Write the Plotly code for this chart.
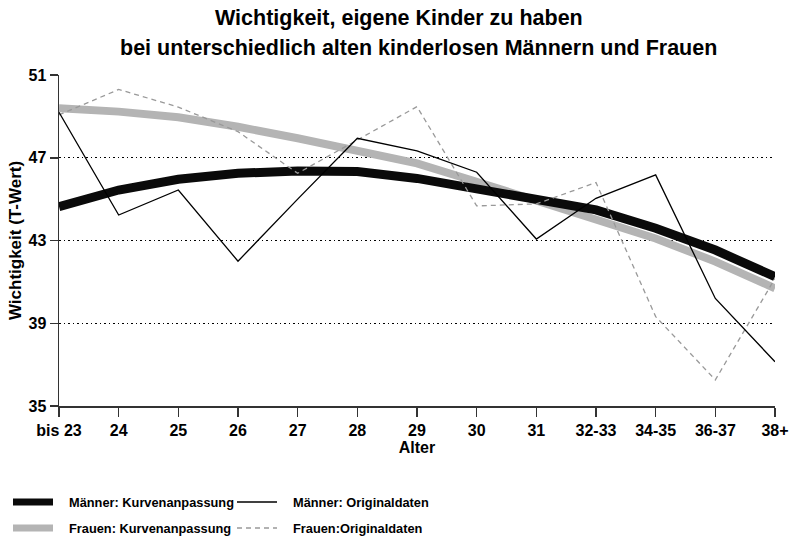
import plotly.graph_objects as go

categories = ["bis 23", "24", "25", "26", "27", "28", "29", "30", "31", "32-33", "34-35", "36-37", "38+"]
maenner_fit = [44.64, 45.44, 45.96, 46.25, 46.36, 46.33, 46.0, 45.52, 45.0, 44.48, 43.59, 42.54, 41.25]
frauen_fit = [49.39, 49.23, 48.96, 48.5, 47.94, 47.3, 46.73, 45.84, 44.96, 44.07, 43.1, 41.98, 40.69]
maenner_orig = [49.2, 44.23, 45.44, 42.0, 45.0, 47.94, 47.33, 46.3, 43.07, 45.04, 46.17, 40.2, 37.14]
frauen_orig = [49.07, 50.3, 49.45, 48.26, 46.25, 47.86, 49.47, 44.67, 44.77, 45.8, 39.32, 36.26, 41.17]
y_ticks = [35, 39, 43, 47, 51]

x = list(range(len(categories)))
FONT = "Liberation Sans, Arial, sans-serif"

L, R, T, B = 59, 18, 75, 133
W, H = 793, 539
PW, PH = W - L - R, H - T - B

def px(v):
    return (v - L) / PW

def py(v):
    return (H - B - v) / PH

styles = {
    "mf": dict(color="#0a0a0a", width=9),
    "ff": dict(color="#b4b4b4", width=8),
    "mo": dict(color="#000000", width=1.3),
    "fo": dict(color="#999999", width=1.3, dash="5px,4px"),
}
names = {
    "mf": "Männer: Kurvenanpassung",
    "ff": "Frauen: Kurvenanpassung",
    "mo": "Männer: Originaldaten",
    "fo": "Frauen:Originaldaten",
}

fig = go.Figure()
fig.add_trace(go.Scatter(x=x, y=frauen_fit, mode="lines", name=names["ff"], line=styles["ff"], hoverinfo="skip"))
fig.add_trace(go.Scatter(x=x, y=maenner_fit, mode="lines", name=names["mf"], line=styles["mf"], hoverinfo="skip"))
fig.add_trace(go.Scatter(x=x, y=frauen_orig, mode="lines", name=names["fo"], line=styles["fo"], hoverinfo="skip"))
fig.add_trace(go.Scatter(x=x, y=maenner_orig, mode="lines", name=names["mo"], line=styles["mo"], hoverinfo="skip"))

# manual legend (2 columns x 2 rows)
legend_items = [("mf", 13, 502), ("ff", 13, 528), ("mo", 237, 502), ("fo", 237, 528)]
shapes = []
annotations = []
for key, x0, y0 in legend_items:
    st = dict(styles[key])
    if key in ("mf", "ff"):
        st["width"] = 7
    shapes.append(dict(type="line", xref="paper", yref="paper", x0=px(x0), x1=px(x0 + 40),
                       y0=py(y0), y1=py(y0), line=st))
    annotations.append(dict(text="<b>%s</b>" % names[key], xref="paper", yref="paper",
                            x=px(x0 + 54), y=py(y0), xanchor="left", yanchor="middle",
                            showarrow=False, font=dict(size=12.8, family=FONT, color="black")))

annotations.append(dict(text="<b>Wichtigkeit, eigene Kinder zu haben</b>", x=px(399), y=py(18),
                        xref="paper", yref="paper", showarrow=False, xanchor="center", yanchor="middle",
                        font=dict(size=21.5, family=FONT)))
annotations.append(dict(text="<b>bei unterschiedlich alten kinderlosen Männern und Frauen</b>", x=px(418),
                        y=py(48), xref="paper", yref="paper", showarrow=False, xanchor="center",
                        yanchor="middle", font=dict(size=21.5, family=FONT)))

fig.update_layout(
    width=W, height=H,
    margin=dict(l=L, r=R, t=T, b=B),
    plot_bgcolor="white", paper_bgcolor="white",
    font=dict(family=FONT, size=14, color="black"),
    showlegend=False,
    shapes=shapes,
    annotations=annotations,
)
fig.update_xaxes(range=[0, 12], tickvals=x, ticktext=["<b>%s</b>" % c for c in categories],
                 automargin=False,
                 showgrid=False, zeroline=False, showline=True, linecolor="#333", linewidth=1.5,
                 ticks="outside", ticklen=9, tickcolor="#333", tickwidth=1.5,
                 tickfont=dict(size=16, family=FONT),
                 title=dict(text="<b>Alter</b>", font=dict(size=16, family=FONT), standoff=4))
fig.update_yaxes(range=[35, 51], tickvals=y_ticks, ticktext=["<b>%d</b>" % v for v in y_ticks],
                 automargin=False,
                 showgrid=True, gridcolor="black", griddash="1.5px,3px", gridwidth=1, zeroline=False,
                 showline=True, linecolor="#333", linewidth=1.5,
                 ticks="outside", ticklen=8, tickcolor="#333", tickwidth=1.5,
                 tickfont=dict(size=16, family=FONT),
                 title=dict(text="<b>Wichtigkeit (T-Wert)</b>", font=dict(size=17, family=FONT), standoff=2))

fig.write_html("out.html", config={"displayModeBar": False, "staticPlot": True},
               post_script="document.body.style.margin='0';document.body.style.overflow='hidden';")
